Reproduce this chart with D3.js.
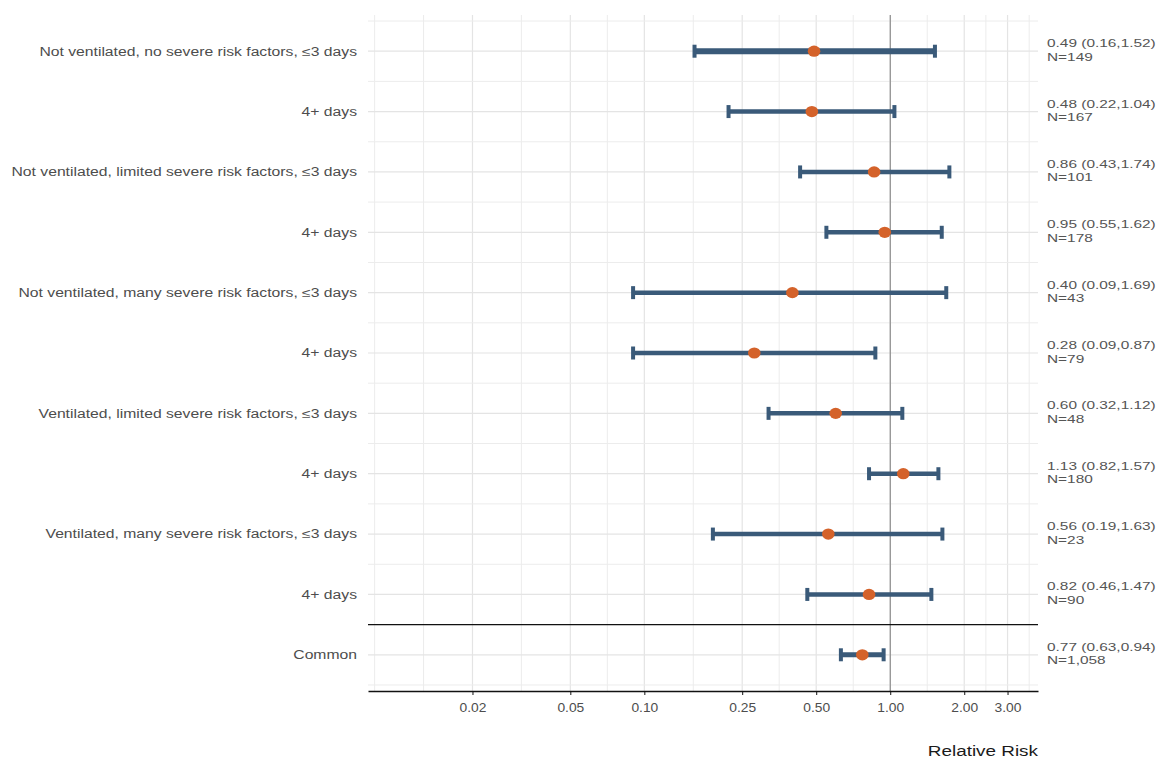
<!DOCTYPE html>
<html><head><meta charset="utf-8">
<script src="https://cdn.jsdelivr.net/npm/d3@7"></script>
<style>body{margin:0;background:#fff} text{font-family:"Liberation Sans",Arial,sans-serif}</style>
</head><body><svg id="c" width="1160" height="761"></svg>
<script>
const labels = [
  "Not ventilated, no severe risk factors, \u22643 days",
  "4+ days",
  "Not ventilated, limited severe risk factors, \u22643 days",
  "4+ days",
  "Not ventilated, many severe risk factors, \u22643 days",
  "4+ days",
  "Ventilated, limited severe risk factors, \u22643 days",
  "4+ days",
  "Ventilated, many severe risk factors, \u22643 days",
  "4+ days",
  "Common"
];
const estimates = [0.49, 0.48, 0.86, 0.95, 0.40, 0.28, 0.60, 1.13, 0.56, 0.82, 0.77];
const lower     = [0.16, 0.22, 0.43, 0.55, 0.09, 0.09, 0.32, 0.82, 0.19, 0.46, 0.63];
const upper     = [1.52, 1.04, 1.74, 1.62, 1.69, 0.87, 1.12, 1.57, 1.63, 1.47, 0.94];
const counts    = ["149", "167", "101", "178", "43", "79", "48", "180", "23", "90", "1,058"];
const tickValues = [0.02, 0.05, 0.10, 0.25, 0.50, 1.00, 2.00, 3.00];
const xLimits = [0.01, 3];
const xTitle = "Relative Risk";

const svg = d3.select("#c");
const P = {left: 368, right: 1038, top: 15, bottom: 691};

const L0 = Math.log10(xLimits[0]), L1 = Math.log10(xLimits[1]);
const R = L1 - L0;
const x = d3.scaleLog()
  .domain([Math.pow(10, L0 - 0.05 * R), Math.pow(10, L1 + 0.05 * R)])
  .range([P.left, P.right]);

const idx = d3.range(labels.length);
const y = d3.scalePoint().domain(idx).range([P.top, P.bottom]).padding(0.6);
const step = y.step();

// grid
const g = svg.append("g");
const lb = tickValues.map(Math.log10);
let ext = lb.slice();
const dLo = Math.log10(x.domain()[0]), dHi = Math.log10(x.domain()[1]);
if (dLo < ext[0]) ext.unshift(ext[0] - (ext[1] - ext[0]));
if (dHi > ext[ext.length - 1]) ext.push(ext[ext.length - 1] + (ext[ext.length - 1] - ext[ext.length - 2]));
let minor = [];
for (let i = 0; i < ext.length - 1; i++) minor.push(ext[i], (ext[i] + ext[i + 1]) / 2, ext[i + 1]);
minor = minor.filter(v => v >= dLo && v <= dHi && !lb.some(b => Math.abs(b - v) < 1e-9));
minor = Array.from(new Set(minor.map(v => v.toFixed(9)))).map(Number);

minor.forEach(v => g.append("line")
  .attr("x1", x(Math.pow(10, v))).attr("x2", x(Math.pow(10, v)))
  .attr("y1", P.top).attr("y2", P.bottom)
  .attr("stroke", "#ececec").attr("stroke-width", 1));
tickValues.forEach(v => g.append("line")
  .attr("x1", x(v)).attr("x2", x(v)).attr("y1", P.top).attr("y2", P.bottom)
  .attr("stroke", "#e4e4e4").attr("stroke-width", 1.2));
const hMinor = d3.range(-0.5, labels.length, 1);
hMinor.forEach(v => {
  const yy = y(0) + v * step;
  g.append("line").attr("x1", P.left).attr("x2", P.right).attr("y1", yy).attr("y2", yy)
    .attr("stroke", "#ececec").attr("stroke-width", 1);
});
idx.forEach(i => g.append("line").attr("x1", P.left).attr("x2", P.right)
  .attr("y1", y(i)).attr("y2", y(i)).attr("stroke", "#e4e4e4").attr("stroke-width", 1.2));

// reference line at 1
svg.append("line").attr("x1", x(1)).attr("x2", x(1)).attr("y1", P.top).attr("y2", P.bottom)
  .attr("stroke", "#7a7a7a").attr("stroke-width", 1);

// separator above "Common"
const sepY = (y(labels.length - 2) + y(labels.length - 1)) / 2;
svg.append("line").attr("x1", P.left).attr("x2", P.right).attr("y1", sepY).attr("y2", sepY)
  .attr("stroke", "#111").attr("stroke-width", 1.4);

// error bars
const barColor = "#3a5a79", ptColor = "#d4622a";
const eb = svg.append("g");
idx.forEach(i => {
  const w = i === 0 ? 6 : (i === labels.length - 1 ? 5 : 4.5);
  const yy = y(i), x0 = x(lower[i]), x1 = x(upper[i]);
  eb.append("line").attr("x1", x0).attr("x2", x1).attr("y1", yy).attr("y2", yy)
    .attr("stroke", barColor).attr("stroke-width", w);
  [x0, x1].forEach(xx => eb.append("line").attr("x1", xx).attr("x2", xx)
    .attr("y1", yy - 6.5).attr("y2", yy + 6.5)
    .attr("stroke", barColor).attr("stroke-width", 4));
  eb.append("ellipse").attr("cx", x(estimates[i])).attr("cy", yy)
    .attr("rx", 6.3).attr("ry", 5.6).attr("fill", ptColor);
});

// left labels
idx.forEach(i => svg.append("text")
  .attr("transform", `translate(357,${y(i) + 4.3}) scale(1.31,1)`)
  .attr("text-anchor", "end").attr("font-size", 12).attr("fill", "#4d4d4d")
  .text(labels[i]));

// right annotations
idx.forEach(i => {
  svg.append("text")
    .attr("transform", `translate(1047,${y(i) - 4}) scale(1.33,1)`)
    .attr("font-size", 11.6).attr("fill", "#555")
    .text(`${estimates[i].toFixed(2)} (${lower[i].toFixed(2)},${upper[i].toFixed(2)})`);
  svg.append("text")
    .attr("transform", `translate(1047,${y(i) + 9.5}) scale(1.33,1)`)
    .attr("font-size", 11.6).attr("fill", "#555")
    .text("N=" + counts[i]);
});

// x axis
const ax = svg.append("g").attr("transform", `translate(0,${P.bottom})`)
  .call(d3.axisBottom(x).tickValues(tickValues).tickFormat(d3.format(".2f"))
    .tickSizeInner(4).tickSizeOuter(0).tickPadding(8));
ax.select(".domain").attr("stroke", "#111").attr("stroke-width", 1.3);
ax.selectAll(".tick line").attr("stroke", "#111").attr("stroke-width", 1);
ax.selectAll(".tick text").attr("font-size", 12).attr("fill", "#4d4d4d")
  .attr("font-family", "Liberation Sans, Arial, sans-serif")
  .attr("dy", "0.71em")
  .attr("transform", "scale(1.15,1)");

svg.append("text")
  .attr("transform", `translate(1038,756) scale(1.26,1)`)
  .attr("text-anchor", "end").attr("font-size", 15).attr("fill", "#1a1a1a")
  .text(xTitle);
</script></body></html>
